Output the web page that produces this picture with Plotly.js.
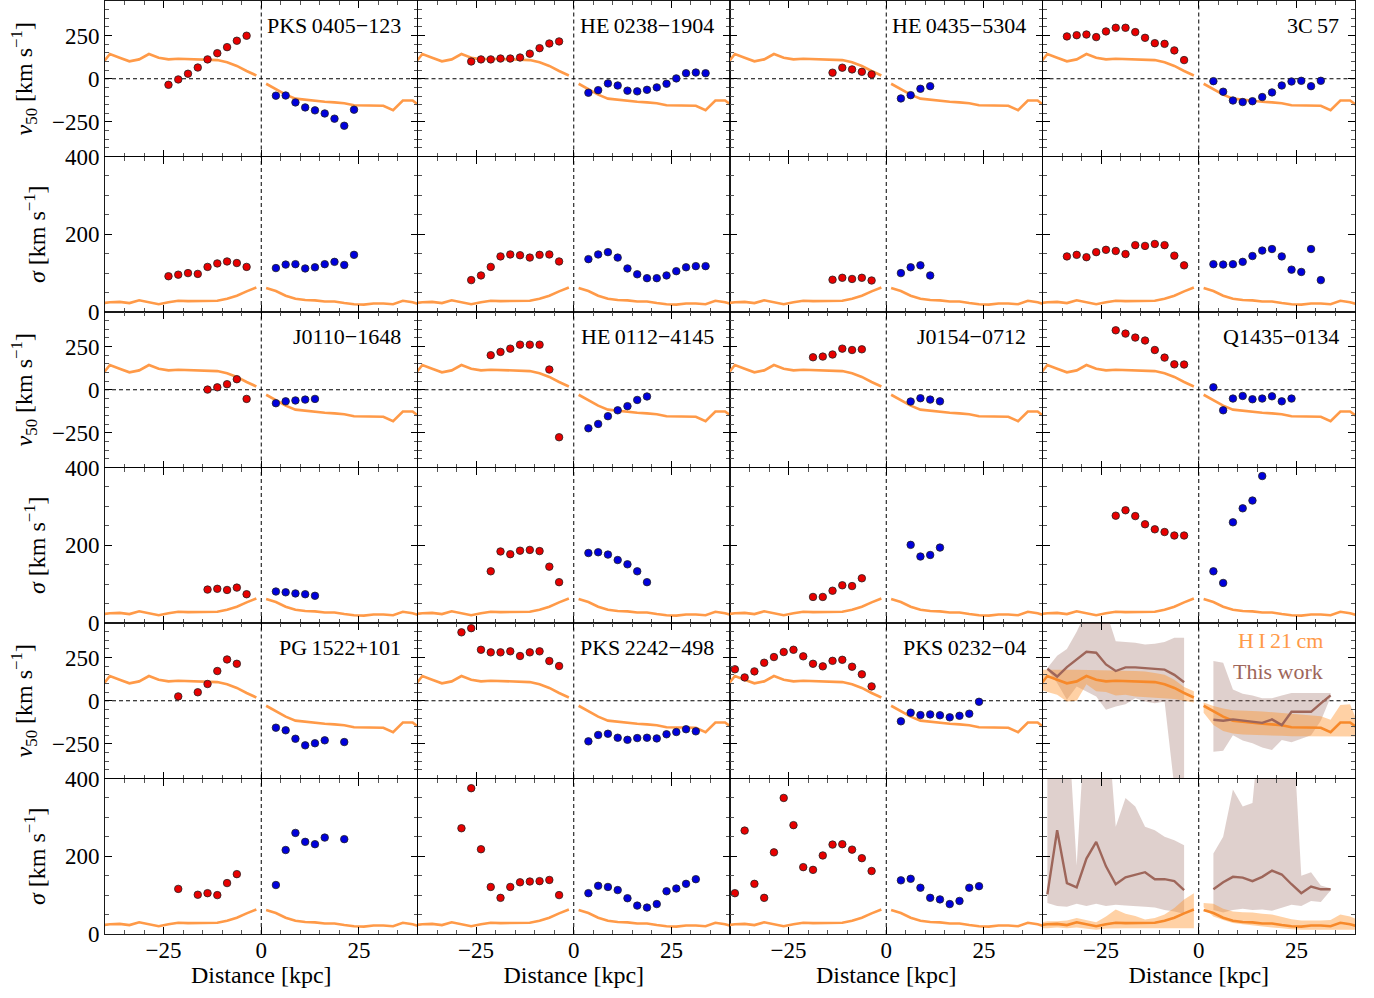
<!DOCTYPE html>
<html><head><meta charset="utf-8">
<script src="https://cdn.plot.ly/plotly-3.0.1.min.js"></script>
<style>html,body{margin:0;padding:0;background:#fff}</style>
</head><body><div id="chart" style="width:1374px;height:998px"></div>
<script>
// ---------- H I 21 cm median profile (same in every panel) ----------
const HI_xL = [-41.25,-38.75,-36.25,-33.75,-31.25,-28.75,-26.25,-23.75,-21.25,-18.75,-16.25,-13.75,-11.25,-8.75,-6.25,-3.75,-1.25];
const HI_xR = [1.25,3.75,6.25,8.75,11.25,13.75,16.25,18.75,21.25,23.75,26.25,28.75,31.25,33.75,36.25,38.75,41.25];
const HI_vL = [73,143,122,101,112,143,122,112,116,114,113,112,108,95,74,45,19];
const HI_vR = [-29,-62,-92,-115,-122,-128,-133,-137,-142,-153,-154,-155,-156,-182,-126,-126,-168];
const HI_sL = [22,25,26,23,30,25,20,25,29,28,28,28,29,34,42,53,63];
const HI_sR = [62,54,42,34,31,30,27,27,23,20,19,22,22,20,29,25,18];
// H I spread (summary panel)
const HI_vL_lo = [70,50,35,-4,0,95,55,50,30,35,25,22,18,15,10,0,-10];
const HI_vL_hi = [180,180,180,180,180,180,180,178,176,174,172,170,160,150,122,80,55];
const HI_vR_lo = [-70,-140,-175,-190,-195,-198,-200,-202,-203,-205,-205,-205,-206,-207,-207,-207,-207];
const HI_vR_hi = [-10,-30,-45,-55,-58,-60,-62,-65,-70,-75,-80,-85,-90,-110,-25,-20,-160];
const HI_sL_lo = [15,15,17,15,17,14,11,14,15,15,15,15,15,15,15,15,15];
const HI_sL_hi = [28,33,33,35,41,35,30,45,63,52,46,37,41,50,67,89,105];
const HI_sR_lo = [69,45,36,28,25,22,19,17,15,12,11,11,11,11,11,11,11];
const HI_sR_hi = [80,78,65,58,56,55,52,50,45,38,35,35,35,36,50,45,35];

// ---------- This work (stack) ----------
const TW_xL = [-38.75,-36.25,-33.75,-31.25,-28.75,-26.25,-23.75,-21.25,-18.75,-16.25,-13.75,-11.25,-8.75,-6.25,-3.75];
const TW_vL = [185,140,195,240,283,278,210,172,193,193,190,185,180,150,107];
const TW_vL_lo = [180,103,6,83,54,25,-52,-33,-20,15,-4,-14,-4,-500,-500];
const TW_vL_hi = [190,260,300,400,520,520,520,345,340,335,325,330,340,365,365];
const TW_sL = [102,267,131,120,194,237,174,128,146,152,159,141,141,136,113];
const TW_sL_lo = [80,72,70,78,72,78,72,75,73,72,70,68,62,58,52];
const TW_sL_hi = [600,600,600,176,600,600,600,276,350,328,276,267,250,241,228];
const TW_xR = [3.75,6.25,8.75,11.25,13.75,16.25,18.75,21.25,23.75,26.25,28.75,31.25,33.75];
const TW_vR = [-110,-116,-108,-116,-120,-128,-108,-141,-64,-64,-64,-15,31];
const TW_vR_lo = [-295,-290,-200,-230,-246,-270,-285,-227,-240,-220,-199,-116,20];
const TW_vR_hi = [230,220,65,40,30,15,15,30,45,45,45,45,45];
const TW_sR = [115,133,147,145,136,147,163,153,128,105,122,115,115];
const TW_sR_lo = [62,55,62,65,62,63,60,68,75,72,85,82,112];
const TW_sR_hi = [207,250,372,328,337,600,600,600,600,150,159,125,118];

// ---------- individual sight lines ----------
const names = ['PKS\u20090405\u2212123','HE\u20090238\u22121904','HE\u20090435\u22125304','3C\u200957',
               'J0110\u22121648','HE\u20090112\u22124145','J0154\u22120712','Q1435\u22120134',
               'PG\u20091522+101','PKS\u20092242\u2212498','PKS\u20090232\u221204'];

const PKS0405_xr = [-23.75,-21.25,-18.75,-16.25,-13.75,-11.25,-8.75,-6.25,-3.75];
const PKS0405_vr = [-35,-4,29,65,112,148,183,220,249];
const PKS0405_sr = [92,96,100,98,116,125,130,126,116];
const PKS0405_xb = [3.75,6.25,8.75,11.25,13.75,16.25,18.75,21.25,23.75];
const PKS0405_vb = [-98,-97,-137,-166,-183,-201,-231,-272,-179];
const PKS0405_sb = [113,122,123,112,115,123,129,121,147];

const HE0238_xr = [-26.25,-23.75,-21.25,-18.75,-16.25,-13.75,-11.25,-8.75,-6.25,-3.75];
const HE0238_vr = [100,112,112,117,117,123,145,177,204,216];
const HE0238_sr = [82,94,116,143,148,146,140,147,148,130];
const HE0238_xb = [3.75,6.25,8.75,11.25,13.75,16.25,18.75,21.25,23.75,26.25,28.75,31.25,33.75];
const HE0238_vb = [-81,-66,-27,-39,-69,-73,-64,-50,-29,2,32,36,32];
const HE0238_sb = [136,148,154,140,112,97,87,87,94,105,115,118,118];

const HE0435_xr = [-13.75,-11.25,-8.75,-6.25,-3.75];
const HE0435_vr = [35,64,54,40,25];
const HE0435_sr = [83,88,85,88,81];
const HE0435_xb = [3.75,6.25,8.75,11.25];
const HE0435_vb = [-114,-95,-58,-43];
const HE0435_sb = [100,115,120,94];

const C357_xr = [-33.75,-31.25,-28.75,-26.25,-23.75,-21.25,-18.75,-16.25,-13.75,-11.25,-8.75,-6.25,-3.75];
const C357_vr = [245,252,256,241,274,295,295,270,237,206,202,164,108];
const C357_sr = [143,147,141,154,160,157,149,172,170,175,172,145,120];
const C357_xb = [3.75,6.25,8.75,11.25,13.75,16.25,18.75,21.25,23.75,26.25,28.75,31.25];
const C357_vb = [-14,-75,-126,-135,-130,-106,-79,-39,-16,-12,-43,-12];
const C357_sb = [123,122,123,129,144,158,162,143,109,103,162,82];

const J0110_xr = [-13.75,-11.25,-8.75,-6.25,-3.75];
const J0110_vr = [1,14,32,61,-53];
const J0110_sr = [86,88,85,91,74];
const J0110_xb = [3.75,6.25,8.75,11.25,13.75];
const J0110_vb = [-78,-67,-62,-57,-53];
const J0110_sb = [81,79,76,74,70];

const HE0112_xr = [-21.25,-18.75,-16.25,-13.75,-11.25,-8.75,-6.25,-3.75];
const HE0112_vr = [200,219,238,261,261,261,117,-275];
const HE0112_sr = [133,184,177,186,188,185,145,105];
const HE0112_xb = [3.75,6.25,8.75,11.25,13.75,16.25,18.75];
const HE0112_vb = [-223,-198,-153,-119,-95,-59,-39];
const HE0112_sb = [180,182,176,162,151,133,105];

const J0154_xr = [-18.75,-16.25,-13.75,-11.25,-8.75,-6.25];
const J0154_vr = [188,192,204,238,230,234];
const J0154_sr = [67,67,83,97,95,115];
const J0154_xb = [6.25,8.75,11.25,13.75];
const J0154_vb = [-68,-49,-57,-67];
const J0154_sb = [201,171,175,194];

const Q1435_xr = [-21.25,-18.75,-16.25,-13.75,-11.25,-8.75,-6.25,-3.75];
const Q1435_vr = [344,325,302,285,230,186,147,146];
const Q1435_sr = [276,290,275,254,241,234,225,225];
const Q1435_xb = [3.75,6.25,8.75,11.25,13.75,16.25,18.75,21.25,23.75];
const Q1435_vb = [14,-119,-51,-36,-55,-51,-38,-67,-51];
const Q1435_xbs = [3.75,6.25,8.75,11.25,13.75,16.25];
const Q1435_sb = [133,103,259,295,315,378];

const PG1522_xr = [-21.25,-16.25,-13.75,-11.25,-8.75,-6.25];
const PG1522_vr = [25,49,97,172,239,214];
const PG1522_sr = [116,101,105,100,131,154];
const PG1522_xb = [3.75,6.25,8.75,11.25,13.75,16.25,21.25];
const PG1522_vb = [-156,-171,-220,-258,-246,-229,-239];
const PG1522_sb = [126,216,260,237,231,248,244];

const PKS2242_xr = [-28.75,-26.25,-23.75,-21.25,-18.75,-16.25,-13.75,-11.25,-8.75,-6.25,-3.75];
const PKS2242_vr = [396,420,295,280,280,286,259,280,286,230,201];
const PKS2242_sr = [272,375,218,121,93,121,133,135,136,139,100];
const PKS2242_xb = [3.75,6.25,8.75,11.25,13.75,16.25,18.75,21.25,23.75,26.25,28.75,31.25];
const PKS2242_vb = [-235,-198,-191,-214,-226,-216,-214,-218,-194,-181,-165,-177];
const PKS2242_sb = [105,124,121,113,92,73,68,77,110,117,129,141];

const PKS0232_xr = [-38.75,-36.25,-33.75,-31.25,-28.75,-26.25,-23.75,-21.25,-18.75,-16.25,-13.75,-11.25,-8.75,-6.25,-3.75];
const PKS0232_vr = [182,135,170,220,253,282,295,257,214,199,231,237,197,153,83];
const PKS0232_sr = [105,266,129,93,210,350,280,172,165,202,230,231,217,195,162];
const PKS0232_xb = [3.75,6.25,8.75,11.25,13.75,16.25,18.75,21.25,23.75];
const PKS0232_vb = [-119,-69,-83,-79,-84,-96,-87,-75,-6];
const PKS0232_sb = [138,142,119,93,89,77,85,119,123];

const objects = [
  [PKS0405_xr,PKS0405_vr,PKS0405_sr,PKS0405_xb,PKS0405_vb,PKS0405_xb,PKS0405_sb],
  [HE0238_xr,HE0238_vr,HE0238_sr,HE0238_xb,HE0238_vb,HE0238_xb,HE0238_sb],
  [HE0435_xr,HE0435_vr,HE0435_sr,HE0435_xb,HE0435_vb,HE0435_xb,HE0435_sb],
  [C357_xr,C357_vr,C357_sr,C357_xb,C357_vb,C357_xb,C357_sb],
  [J0110_xr,J0110_vr,J0110_sr,J0110_xb,J0110_vb,J0110_xb,J0110_sb],
  [HE0112_xr,HE0112_vr,HE0112_sr,HE0112_xb,HE0112_vb,HE0112_xb,HE0112_sb],
  [J0154_xr,J0154_vr,J0154_sr,J0154_xb,J0154_vb,J0154_xb,J0154_sb],
  [Q1435_xr,Q1435_vr,Q1435_sr,Q1435_xb,Q1435_vb,Q1435_xbs,Q1435_sb],
  [PG1522_xr,PG1522_vr,PG1522_sr,PG1522_xb,PG1522_vb,PG1522_xb,PG1522_sb],
  [PKS2242_xr,PKS2242_vr,PKS2242_sr,PKS2242_xb,PKS2242_vb,PKS2242_xb,PKS2242_sb],
  [PKS0232_xr,PKS0232_vr,PKS0232_sr,PKS0232_xb,PKS0232_vb,PKS0232_xb,PKS0232_sb]
];

// ---------- styles ----------
const HI_COLOR = '#ff9a48';
const HI_COLOR_S = '#f7892a';
const HI_FILL = 'rgba(255,145,40,0.42)';
const TW_COLOR = '#9e665a';
const TW_FILL = 'rgba(150,100,90,0.30)';
const RED = '#e80000', BLUE = '#0000dc';
const FONT = 'Liberation Serif, DejaVu Serif, serif';

const sfx = i => (i === 1 ? '' : String(i));
const traces = [];
const layout = {
  width:1374, height:998, margin:{l:105,r:19,t:1,b:64},
  showlegend:false, paper_bgcolor:'white', plot_bgcolor:'white',
  font:{family:FONT, size:22, color:'black'},
  shapes:[], annotations:[]
};

for (let r = 0; r < 6; r++) {
  for (let c = 0; c < 4; c++) {
    const idx = r*4 + c + 1, s = sfx(idx);
    const isV = (r % 2 === 0);
    layout['xaxis'+s] = {
      domain:[c/4,(c+1)/4], anchor:'y'+s, range:[-40,40],
      tickmode:'array', tickvals:[-25,0,25],
      ticks:'inside', ticklen:7, tickwidth:1.1, tickcolor:'black',
      minor:{tick0:0, dtick:5, ticks:'inside', ticklen:4, tickwidth:1, tickcolor:'#555'},
      mirror:'allticks', showline:true, linecolor:'black', linewidth:0.9,
      showgrid:false, zeroline:false, showticklabels:(r===5),
      ticklabelstandoff:-5,
      tickfont:{size:23, family:FONT}
    };
    if (r === 5) layout['xaxis'+s].title = {text:'Distance [kpc]', font:{size:24, family:FONT}, standoff:2};
    layout['yaxis'+s] = {
      domain:[1-(r+1)/6, 1-r/6], anchor:'x'+s,
      range: isV ? [-450,450] : [0,400],
      tickmode:'array', tickvals: isV ? [-250,0,250] : [0,200,400],
      ticks:'inside', ticklen:7, tickwidth:1.1, tickcolor:'black',
      minor:{tick0:0, dtick:50, ticks:'inside', ticklen:4, tickwidth:1, tickcolor:'#555'},
      mirror:'allticks', showline:true, linecolor:'black', linewidth:0.9,
      showgrid:false, zeroline:false, showticklabels:(c===0),
      tickfont:{size:23, family:FONT}
    };
    if (c === 0) layout['yaxis'+s].title = {
      text: isV ? '<i>v</i><sub>50</sub> [km s<sup>\u22121</sup>]' : '<i>\u03c3</i> [km s<sup>\u22121</sup>]',
      font:{size:24, family:FONT}, standoff:12 };
    // dashed zero lines
    layout.shapes.push({type:'line', xref:'x'+s, yref:'y'+s+' domain', x0:0, x1:0, y0:0, y1:1,
      line:{color:'black', width:1, dash:'4px,3px'}, layer:'below'});
    if (isV) layout.shapes.push({type:'line', xref:'x'+s+' domain', yref:'y'+s, x0:0, x1:1, y0:0, y1:0,
      line:{color:'black', width:1, dash:'4px,3px'}, layer:'below'});
  }
}

function mk(color){ return {size:7.5, color:color, line:{color:'#222', width:0.8}}; }

// individual panels
for (let k = 0; k < 11; k++) {
  const R = Math.floor(k/4), c = k % 4;
  const iv = (2*R)*4 + c + 1, is = (2*R+1)*4 + c + 1;
  const o = objects[k];
  traces.push({type:'scatter', mode:'lines', x:HI_xL.concat([null],HI_xR), y:HI_vL.concat([null],HI_vR),
    xaxis:'x'+sfx(iv), yaxis:'y'+sfx(iv), line:{color:HI_COLOR, width:2.6}, hoverinfo:'skip'});
  traces.push({type:'scatter', mode:'markers', x:o[0], y:o[1], xaxis:'x'+sfx(iv), yaxis:'y'+sfx(iv), marker:mk(RED)});
  traces.push({type:'scatter', mode:'markers', x:o[3], y:o[4], xaxis:'x'+sfx(iv), yaxis:'y'+sfx(iv), marker:mk(BLUE)});
  traces.push({type:'scatter', mode:'lines', x:HI_xL.concat([null],HI_xR), y:HI_sL.concat([null],HI_sR),
    xaxis:'x'+sfx(is), yaxis:'y'+sfx(is), line:{color:HI_COLOR, width:2.6}, hoverinfo:'skip'});
  traces.push({type:'scatter', mode:'markers', x:o[0], y:o[2], xaxis:'x'+sfx(is), yaxis:'y'+sfx(is), marker:mk(RED)});
  traces.push({type:'scatter', mode:'markers', x:o[5], y:o[6], xaxis:'x'+sfx(is), yaxis:'y'+sfx(is), marker:mk(BLUE)});
  layout.annotations.push({xref:'x'+sfx(iv)+' domain', yref:'y'+sfx(iv)+' domain', x:0.955, y:0.84,
    xanchor:'right', yanchor:'middle', text:names[k], showarrow:false, font:{size:22, family:FONT}});
}

// summary panels
function band(xs, lo, hi, ax, color) {
  return {type:'scatter', mode:'lines', x:xs.concat(xs.slice().reverse()), y:lo.concat(hi.slice().reverse()),
    fill:'toself', fillcolor:color, line:{width:0}, xaxis:'x'+ax, yaxis:'y'+ax, hoverinfo:'skip'};
}
function line(xs, ys, ax, color, w) {
  return {type:'scatter', mode:'lines', x:xs, y:ys, line:{color:color, width:w}, xaxis:'x'+ax, yaxis:'y'+ax, hoverinfo:'skip'};
}
const sv = sfx(20), ss = sfx(24);
traces.push(band(TW_xL, TW_vL_lo, TW_vL_hi, sv, TW_FILL));
traces.push(band(TW_xR, TW_vR_lo, TW_vR_hi, sv, TW_FILL));
traces.push(band(HI_xL, HI_vL_lo, HI_vL_hi, sv, HI_FILL));
traces.push(band(HI_xR, HI_vR_lo, HI_vR_hi, sv, HI_FILL));
traces.push(line(HI_xL, HI_vL, sv, HI_COLOR_S, 2.6));
traces.push(line(HI_xR, HI_vR, sv, HI_COLOR_S, 2.6));
traces.push(line(TW_xL, TW_vL, sv, TW_COLOR, 2.4));
traces.push(line(TW_xR, TW_vR, sv, TW_COLOR, 2.4));

traces.push(band(TW_xL, TW_sL_lo, TW_sL_hi, ss, TW_FILL));
traces.push(band(TW_xR, TW_sR_lo, TW_sR_hi, ss, TW_FILL));
traces.push(band(HI_xL, HI_sL_lo, HI_sL_hi, ss, HI_FILL));
traces.push(band(HI_xR, HI_sR_lo, HI_sR_hi, ss, HI_FILL));
traces.push(line(HI_xL, HI_sL, ss, HI_COLOR_S, 2.6));
traces.push(line(HI_xR, HI_sR, ss, HI_COLOR_S, 2.6));
traces.push(line(TW_xL, TW_sL, ss, TW_COLOR, 2.4));
traces.push(line(TW_xR, TW_sR, ss, TW_COLOR, 2.4));

layout.annotations.push({xref:'x'+sv+' domain', yref:'y'+sv+' domain', x:0.905, y:0.89, xanchor:'right', yanchor:'middle',
  text:'H\u2009I\u200921\u2009cm', showarrow:false, font:{size:22, family:FONT, color:'#ff9a48'}});
layout.annotations.push({xref:'x'+sv+' domain', yref:'y'+sv+' domain', x:0.905, y:0.69, xanchor:'right', yanchor:'middle',
  text:'This work', showarrow:false, font:{size:22, family:FONT, color:TW_COLOR}});

Plotly.newPlot('chart', traces, layout, {displayModeBar:false, staticPlot:true});
</script></body></html>
